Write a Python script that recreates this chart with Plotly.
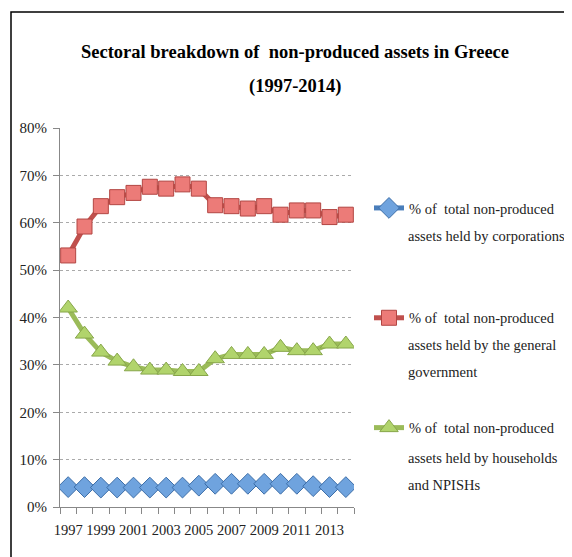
import plotly.graph_objects as go

years = list(range(1997, 2015))
corporations = [4.2, 4.2, 4.1, 4.1, 4.1, 4.1, 4.1, 4.1, 4.5, 4.9, 4.9, 4.9, 4.9, 4.9, 4.9, 4.4, 4.2, 4.2]
government = [53.1, 59.2, 63.5, 65.4, 66.3, 67.6, 67.2, 68.1, 67.2, 63.7, 63.5, 63.0, 63.5, 61.7, 62.6, 62.6, 61.2, 61.7]
households = [42.0, 36.5, 32.7, 30.8, 29.6, 28.9, 28.9, 28.6, 28.6, 31.3, 32.2, 32.2, 32.2, 33.7, 33.0, 33.0, 34.4, 34.4]
tick_years = [1997, 1999, 2001, 2003, 2005, 2007, 2009, 2011, 2013]
yticks = [0, 10, 20, 30, 40, 50, 60, 70, 80]

legend_lines = [
    ["% of  total non-produced", "assets held by corporations"],
    ["% of  total non-produced", "assets held by the general", "government"],
    ["% of  total non-produced", "assets held by households", "and NPISHs"],
]
title_lines = ["Sectoral breakdown of  non-produced assets in Greece", "(1997-2014)"]

FONT = "Liberation Serif"
OFF = 8  # page body margin
W, H = 572, 557
# target page positions of plot area: x 60..354, y 128..507
L = 60 - OFF
T = 128 - OFF
R = W - (354 - OFF)
B = H - (507 - OFF)
PW, PH = W - L - R, H - T - B

fig = go.Figure()
series = [
    (corporations, "#4a7ebb", "#6fa3de", "#3d6ea8", "diamond", 16),
    (government, "#c0504d", "#ec7b78", "#b24643", "square", 15),
    (households, "#9bbb59", "#b1d46c", "#87a64a", "triangle-up", 16),
]
for i, (vals, lc, mc, oc, sym, ms) in enumerate(series):
    fig.add_trace(go.Scatter(
        x=years, y=[v / 100 for v in vals], name=legend_lines[i][0], mode="lines+markers",
        line=dict(color=lc, width=5),
        marker=dict(symbol=sym, size=ms, color=mc, line=dict(color=oc, width=1)),
        legendgroup=f"g{i}",
    ))

def px_x(x):  # page x -> paper
    return (x - OFF - L) / PW

def px_y(y):  # page y -> paper
    return (H - B - (y - OFF)) / PH

LEG_FS = 14.5
annotations = []
annotations.append(dict(text="<b>" + title_lines[1] + "</b>", xref="paper", yref="paper",
                        x=px_x(295), y=px_y(86), xanchor="center", yanchor="middle", showarrow=False,
                        font=dict(family=FONT, size=18.5, color="black")))
first_line_y = [208, 317, 430]
for i, lines in enumerate(legend_lines):
    for j, txt in enumerate(lines[1:], start=1):
        annotations.append(dict(text=txt, xref="paper", yref="paper",
                                x=px_x(406), y=px_y(first_line_y[i] + 27.5 * j),
                                xanchor="left", yanchor="middle", showarrow=False,
                                font=dict(family=FONT, size=LEG_FS, color="#222")))

fig.update_layout(
    width=W, height=H,
    margin=dict(l=L, r=R, t=T, b=B, autoexpand=False),
    paper_bgcolor="white", plot_bgcolor="white",
    font=dict(family=FONT, size=15, color="#222"),
    title=dict(
        text="<b>" + title_lines[0] + "</b>",
        x=(295 - OFF) / W, xanchor="center", y=1 - (52 - OFF) / H, yanchor="middle",
        font=dict(family=FONT, size=18.5, color="black"),
    ),
    showlegend=True,
    legend=dict(
        x=px_x(369), xanchor="left", y=px_y(192), yanchor="top",
        font=dict(family=FONT, size=LEG_FS, color="#222"),
        tracegroupgap=88, itemwidth=30, bgcolor="rgba(0,0,0,0)",
    ),
    annotations=annotations,
    xaxis=dict(
        range=[1996.5, 2014.5], tickmode="array", tickvals=tick_years,
        ticktext=[str(y) for y in tick_years], ticks="", showgrid=False, tickangle=0,
        showline=True, linecolor="#888", linewidth=1.2, automargin=False,
        minor=dict(ticks="outside", tick0=1996.5, dtick=1, ticklen=6, tickcolor="#888", showgrid=False),
        tickfont=dict(family=FONT, size=14.5, color="#222"), ticklabelstandoff=9,
    ),
    yaxis=dict(
        range=[0, 0.8], tickvals=[v / 100 for v in yticks], ticktext=[f"{v}%" for v in yticks],
        showgrid=True, gridcolor="#aaa", griddash="dot", gridwidth=1,
        showline=True, linecolor="#888", linewidth=1.2, automargin=False,
        ticks="outside", ticklen=6, tickcolor="#888", ticklabelstandoff=3,
        tickfont=dict(family=FONT, size=15, color="#222"), zeroline=False,
    ),
    shapes=[dict(type="rect", xref="paper", yref="paper",
                 x0=px_x(11), x1=px_x(640), y0=px_y(640), y1=px_y(12),
                 line=dict(color="black", width=1.5), fillcolor="rgba(0,0,0,0)", layer="below")],
)

fig.write_html("out.html")
